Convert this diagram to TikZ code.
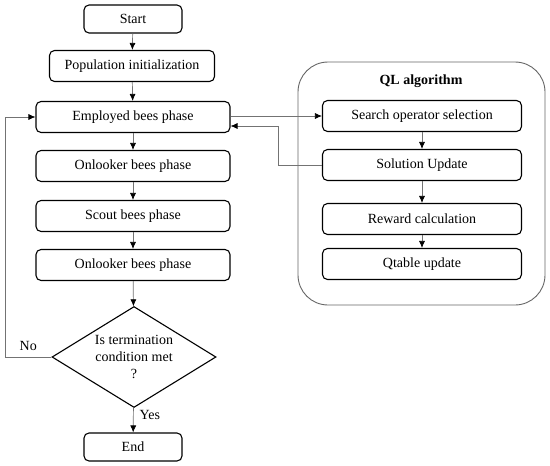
\documentclass[tikz,border=0pt]{standalone}
\usepackage{fontspec}
\setmainfont{Liberation Serif}
\usetikzlibrary{arrows.meta,shapes.geometric}

\begin{document}
\begin{tikzpicture}[
    x=1pt, y=-1pt,
    block/.style={
        rectangle, draw, rounded corners=5pt, line width=1.1pt,
        minimum height=31pt, align=center, font=\fontsize{14}{16}\selectfont, inner sep=3pt
    },
    decision/.style={
        diamond, draw, line width=1.1pt, aspect=1.62, inner sep=0pt,
        minimum width=164pt, minimum height=101pt,
        align=center, font=\fontsize{14}{17}\selectfont
    },
    arrow/.style={-{Latex[length=7pt,width=6pt,color=black]}, draw=black!55, line width=0.7pt},
    lbl/.style={font=\fontsize{14}{16}\selectfont, inner sep=1pt}
]
\useasboundingbox (0,0) rectangle (550,466);

% QL frame
\draw[black!60, line width=0.9pt, rounded corners=30pt] (298,62) rectangle (545,305);
\node[font=\bfseries\fontsize{14}{16}\selectfont] (qltitle) at (421,81) {QL algorithm};

% Main flow
\node[block, minimum width=98pt, minimum height=28pt] (start) at (133,19) {Start};
\node[block, minimum width=165pt] (init) at (132,66) {Population initialization};
\node[block, minimum width=194pt] (employed) at (133,117) {Employed bees phase};
\node[block, minimum width=194pt] (onlooker1) at (133,166) {Onlooker bees phase};
\node[block, minimum width=194pt] (scout) at (133,216) {Scout bees phase};
\node[block, minimum width=194pt] (onlooker2) at (133,265) {Onlooker bees phase};
\node[decision] (term) at (134,357) {Is termination\\condition met\\?};
\node[block, minimum width=98pt, minimum height=28pt] (end) at (133,447) {End};

% QL steps
\node[block, minimum width=199pt] (search) at (422,116) {Search operator selection};
\node[block, minimum width=199pt] (update) at (422,165) {Solution Update};
\node[block, minimum width=199pt] (reward) at (422,219) {Reward calculation};
\node[block, minimum width=199pt] (qtable) at (422,264) {Qtable update};

% Edges
\draw[arrow] (start) -- (init);
\draw[arrow] (init) -- (employed);
\draw[arrow] (employed) -- (onlooker1);
\draw[arrow] (onlooker1) -- (scout);
\draw[arrow] (scout) -- (onlooker2);
\draw[arrow] (onlooker2) -- (term);
\draw[arrow] (term) -- (end) node[lbl, pos=0.3, right=5pt] {Yes};
\draw[arrow] (term.west) -- (5,357) node[lbl, pos=0.5, above=5pt] {No}
              |- (employed.west);
\draw[arrow] (search) -- (update);
\draw[arrow] (update) -- (reward);
\draw[arrow] (reward) -- (qtable);
% links to the QL part
\draw[arrow] (employed.east |- search) -- (search.west);
\draw[arrow] (update.west) -| (278,126) -- (employed.east |- 0,126);

\end{tikzpicture}
\end{document}
